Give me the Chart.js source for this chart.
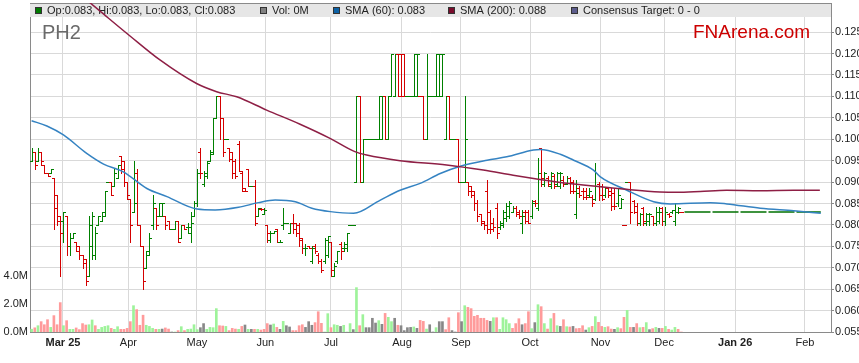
<!DOCTYPE html>
<html>
<head>
<meta charset="utf-8">
<title>PH2</title>
<style>
    html, body { margin: 0; padding: 0; background: #fff; }
    #ph2Chart { display: block; }
</style>
<script src="https://cdn.jsdelivr.net/npm/chart.js@4.4.1/dist/chart.umd.min.js"></script>
</head>
<body>
<canvas id="ph2Chart" width="859" height="363"></canvas>
<script>
// Daily bars, one per trading day (index 0 = first bar on the chart)
var opens = [
    .095, .097, .095, .097, .094, .092, .092, .091, .087, .082,
    .081, .082, .075, .077, .076, .075, .073, .072, .068, .075,
    .073, .080, .081, .082, .090, .090, .089, .091, .096, .095,
    .090, .086, .083, .092, .080, .075, .070, .074, .080, .084,
    .082, .082, .082, .081, .079, .079, .081, .077, .080,
    .0795, .078, .082, .085, .097, .0895, .0915, .095, .0965, .105,
    .110, .105, .100, .098, .097, .095, .099, .092, .0885, .093,
    .089, .089, .082, .0838, .0825, .080, .0765, .078, .079, .076,
    .080, .0805, .078, .0805, .0805, .080, .077, .0745, .075, .0715,
    .075, .073, .0715, .0715, .073, .076, .068, .0715, .0755, .0745,
    .0745, .080, .080,
    .09, .11, .09, .10, .10, .10, .10, .10, .10, .11,
    .10, .11, .11, .12, .12, .12, .11, .11, .11, .11,
    .11, .11, .10, .11, .11, .11, .11, .11, .10, .11,
    .10, .10, .10, .09, .09,
    .090, .089, .088, .085, .0825, .081, .088, .083, .0805, .084,
    .0795, .080, .0815, .082, .083, .084, .083, .0805, .083, .083,
    .082, .0855, .084, .098, .0895, .091, .089, .0915, .0895, .089,
    .0905, .0895, .091, .090, .0825, .0885, .088, .088, .087, .0865,
    .086, .0895,
    .089, .087, .0885, .088, .0875, .085, .084, .080, .090, .090,
    .0855, .0845, .0805, .084, .0805, .081, .082, .0805, .081, .084,
    .081, .0825, .083, .081, .083, .083
];
var highs = [
    .098, .097, .098, .097, .094, .092, .093, .091, .087, .082,
    .083, .082, .078, .078, .076, .075, .073, .072, .082, .083,
    .0795, .082, .083, .088, .090, .090, .093, .094, .096, .095,
    .090, .086, .095, .093, .080, .075, .074, .078, .087, .084,
    .085, .085, .082, .081, .079, .081, .081, .080, .080,
    .0805, .083, .0855, .093, .098, .0925, .095, .0975, .105, .110,
    .110, .105, .100, .098, .097, .0955, .0995, .0925, .0885, .093,
    .089, .0905, .084, .084, .084, .080, .0785, .0785, .079, .0765,
    .084, .0805, .0805, .0825, .0805, .0805, .077, .0755, .075, .075,
    .0755, .0735, .072, .077, .0775, .076, .071, .074, .076, .076,
    .078, .080, .080,
    .11, .11, .10, .10, .10, .10, .10, .11, .11, .11,
    .11, .12, .12, .12, .12, .12, .11, .11, .12, .12,
    .11, .11, .12, .11, .11, .12, .12, .12, .11, .11,
    .10, .10, .10, .09, .11,
    .090, .089, .088, .0858, .0825, .081, .0905, .0835, .0815, .085,
    .081, .0835, .085, .0855, .0845, .0845, .0835, .0835, .0835, .0835,
    .0858, .0858, .0956, .098, .0924, .0915, .0924, .0918, .0924, .0924,
    .0915, .0915, .0912, .0905, .0905, .089, .0885, .0885, .0885, .087,
    .0944, .090,
    .0896, .0889, .0889, .0886, .0886, .0885, .0862, .080, .090, .090,
    .0858, .0851, .0828, .0842, .0828, .0828, .082, .0842, .0842, .0842,
    .0842, .0828, .0835, .0851, .0842, .083
];
var lows = [
    .095, .093, .095, .094, .092, .0915, .092, .079, .080, .068,
    .076, .073, .073, .077, .074, .072, .070, .066, .068, .072,
    .072, .080, .081, .082, .090, .087, .089, .091, .092, .089,
    .086, .076, .083, .080, .075, .065, .070, .073, .079, .079,
    .082, .082, .079, .079, .079, .079, .076, .077, .079,
    .078, .076, .082, .0845, .091, .089, .091, .095, .0965, .105,
    .100, .096, .100, .095, .091, .091, .0925, .088, .088, .089,
    .089, .080, .082, .0835, .0825, .076, .076, .078, .076, .076,
    .079, .0805, .078, .078, .0775, .075, .0735, .073, .0745, .071,
    .0735, .071, .069, .071, .0725, .068, .068, .071, .072, .074,
    .074, .080, .080,
    .09, .09, .09, .10, .10, .10, .10, .10, .10, .10,
    .10, .11, .11, .11, .11, .11, .11, .11, .11, .11,
    .11, .10, .10, .11, .11, .11, .11, .11, .10, .10,
    .10, .10, .09, .09, .09,
    .087, .0865, .0835, .081, .080, .079, .078, .078, .0785, .077,
    .079, .0795, .081, .0815, .083, .082, .0815, .078, .0805, .0805,
    .0815, .0845, .0835, .089, .089, .089, .0885, .0885, .089, .0885,
    .089, .0895, .0875, .0875, .0815, .0865, .086, .086, .0865, .0845,
    .0858, .0858,
    .0858, .0865, .0865, .0835, .0838, .0845, .0839, .080, .090, .0805,
    .0827, .080, .080, .080, .080, .080, .080, .080, .0805, .080,
    .080, .0818, .0828, .080, .0828, .083
];
var closes = [
    .097, .094, .097, .095, .092, .0915, .093, .084, .081, .078,
    .083, .075, .077, .078, .074, .073, .071, .067, .080, .082,
    .078, .082, .083, .088, .090, .087, .092, .094, .093, .090,
    .087, .080, .085, .080, .075, .067, .073, .077, .085, .080,
    .085, .085, .080, .079, .079, .081, .076, .080, .079,
    .0795, .0805, .085, .092, .092, .092, .0945, .097, .105, .110,
    .105, .097, .100, .0955, .092, .0915, .0925, .088, .088, .089,
    .089, .0805, .084, .0838, .0835, .078, .078, .0785, .076, .076,
    .0805, .0805, .0805, .079, .078, .0765, .0745, .0745, .0745, .0745,
    .074, .0715, .0695, .0765, .0775, .0695, .0705, .074, .074, .0755,
    .078, .080, .080,
    .11, .09, .10, .10, .10, .10, .10, .11, .11, .10,
    .11, .12, .12, .11, .11, .11, .11, .11, .12, .12,
    .11, .10, .11, .11, .11, .12, .12, .12, .11, .10,
    .10, .10, .09, .09, .10,
    .088, .087, .085, .082, .0805, .080, .079, .079, .0795, .078,
    .0805, .083, .0845, .085, .084, .0825, .082, .082, .081, .0805,
    .085, .085, .092, .091, .092, .0895, .092, .089, .092, .092,
    .0895, .091, .088, .088, .0875, .087, .0865, .0865, .088, .085,
    .089, .087,
    .086, .0885, .087, .0845, .0845, .087, .086, .080, .090, .083,
    .083, .0805, .0825, .081, .0825, .0825, .0805, .083, .083, .081,
    .083, .082, .0835, .085, .084, .083
];
// Volume in millions of shares
var volumes = [
    .2, .3, .45, .74, .52, .88, .33, 1.17, .52, 2.1,
    .45, .81, .19, .19, .29, .17, .6, .5, .52, .86,
    .45, .19, .33, .4, .45, .26, .19, .38, .19, .19,
    .26, .74, 1.88, 1.6, .48, 1.2, .48, .4, .26, .19,
    .19, .21, .29, .21, 0, 0, .1, .38, .1, .19,
    .21, .52, .17, .31, .6, .19, .33, .31, 1.67, .45,
    .43, .4, .1, .26, .21, .19, .4, .5, .19, .19,
    .19, .19, .14, .19, .6, .5, .57, .33, .19, .76,
    .45, .36, .1, .1, .45, .52, .33, .74, .48, .67,
    1.45, .62, 0, 1.31, .31, .52, .48, .4, .48, 0,
    .6, .17, 3.17, .45, 1.24, .31, .31, .98, .64, .81,
    .55, 1.33, 1.05, .74, .98, .48, .45, .1, .31, .33,
    .36, .26, .83, .76, .21, .52, 0, .31, .74, .74,
    .17, 1.02, .1, 0, 1.38, .74, 1.88, 1.76, 1.67, 1.12,
    1.19, .98, .98, .83, .76, 1.02, 1.02, .19, 1.02, .88,
    .6, .26, .6, .95, .52, .6, 1.45, .24, .67, 1.95,
    1.81, .6, .21, .95, 1.33, .45, .4, .88, .38, .36,
    .4, .24, .26, .45, .14, .31, .4, 1.1, .69, .4,
    .33, .38, .21, .19, .31, .24, 1.05, 1.55, .33, .33,
    .6, .31, .33, .67, .17, .24, .33, .26, .26, .4,
    .19, .14, .33, .19, 0
];

// Moving averages at bar positions
var sma60Pos = [0, 4.8, 10, 17.3, 22.6, 28.8, 36.2, 42.5, 51.9, 57.6, 65, 71.2, 76.5, 82.8, 88, 93.8, 101.1,
    109.5, 115.7, 122, 128.3, 134.6, 143, 149.2, 157.6, 159.7, 166, 170.2, 176.4, 178.6, 186.9, 195.3,
    200.5, 213.1, 218.3, 228.8, 239.3, 247.8];
var sma60Vals = [.1043, .1031, .1010, .0967, .0942, .0924, .0885, .0866, .0837, .0835, .0841, .0852, .0858,
    .0854, .0839, .0831, .0827, .0858, .0881, .0897, .0920, .0937, .0951, .0959, .0975, .0976, .0965, .0951,
    .0928, .0912, .0881, .0854, .0849, .0852, .0849, .0839, .0833, .0827];
var sma200Pos = [13.6, 21.5, 30.9, 40.3, 51.8, 58.1, 64.4, 73.8, 84.3, 93.7, 101.5, 105.2, 115.7, 130.3,
    141.8, 151.2, 159.6, 168, 178.5, 186.8, 197.3, 202.5, 209.9, 218.2, 228.7, 239.2, 247.5];
var sma200Vals = [.1348, .1299, .1241, .1185, .1130, .1111, .1099, .1068, .1035, .1002, .0971, .0963, .0950,
    .0940, .0928, .0916, .0906, .0897, .0889, .0883, .0877, .0876, .0878, .0881, .0880, .0881, .0881];

// Days with no trades yet, drawn flat at the last price
var futureRange = [205, 247.8];

var monthTickPos = [9.86, 30.4, 51.9, 73.4, 94.0, 116.3, 134.8, 156.5, 178.6, 198.6, 220.9, 242.8];
var monthTickLabels = ['Mar 25', 'Apr', 'May', 'Jun', 'Jul', 'Aug', 'Sep', 'Oct', 'Nov', 'Dec', 'Jan 26', 'Feb'];
var priceTicks = [0.055, 0.060, 0.065, 0.070, 0.075, 0.080, 0.085, 0.090, 0.095, 0.100, 0.105, 0.110, 0.115, 0.120, 0.125];
var volTicks = [0, 2, 4];

(function () {
    var canvas = document.getElementById('ph2Chart');
    if (!canvas) return;
    var ctx = canvas.getContext('2d');

    var FONT = '"Liberation Sans", Arial, Helvetica, sans-serif';
    var barUp = '#008000', barDown = '#d40000';
    var volUp = '#9ef39a', volDown = '#ff9b9b', volFlat = '#888888';
    var last = closes.length - 1;

    Chart.defaults.font.family = FONT;
    Chart.defaults.font.size = 11;
    Chart.defaults.color = '#333';

    function barColor(i) {
        if (closes[i] > opens[i]) return barUp;
        if (closes[i] < opens[i]) return barDown;
        if (i > 0 && closes[i] < closes[i - 1]) return barDown;
        return barUp;
    }

    var volColors = volumes.map(function (v, i) {
        if (i === 0) return closes[0] >= opens[0] ? volUp : volDown;
        if (closes[i] > closes[i - 1]) return volUp;
        if (closes[i] < closes[i - 1]) return volDown;
        return volFlat;
    });

    var legendItems = [
        { x: 35,  color: '#007a00', text: 'Op:' + opens[last].toFixed(3) + ', Hi:' + highs[last].toFixed(3) +
            ', Lo:' + lows[last].toFixed(3) + ', Cl:' + closes[last].toFixed(3) },
        { x: 260, color: '#808080', text: 'Vol: ' + Math.round(volumes[last]) + 'M' },
        { x: 333, color: '#0d62a6', text: 'SMA (60): ' + sma60Vals[sma60Vals.length - 1].toFixed(3) },
        { x: 448, color: '#7a0c2c', text: 'SMA (200): ' + sma200Vals[sma200Vals.length - 1].toFixed(3) },
        { x: 571, color: '#5c5c8c', text: 'Consensus Target: 0 - 0' }
    ];

    // legend band, watermark texts and the OHLC bars
    var ohlcPlugin = {
        id: 'ohlcBars',
        beforeDatasetsDraw: function (chart) {
            var c = chart.ctx;
            var area = chart.chartArea;
            var xs = chart.scales.x;
            var ys = chart.scales.y;

            c.save();
            c.fillStyle = '#e6e6e6';
            c.fillRect(area.left, area.top, area.right - area.left, 14);
            c.fillStyle = '#8a8a8a';
            c.fillRect(area.left, area.top, area.right - area.left, 1);

            c.textBaseline = 'middle';
            c.font = '11px ' + FONT;
            legendItems.forEach(function (item) {
                c.fillStyle = item.color;
                c.fillRect(item.x, area.top + 4, 7, 7);
                c.strokeStyle = '#333';
                c.lineWidth = 1;
                c.strokeRect(item.x + 0.5, area.top + 4.5, 6, 6);
                c.fillStyle = '#222';
                c.fillText(item.text, item.x + 12, area.top + 8);
            });

            c.font = '20px ' + FONT;
            c.fillStyle = '#6a6a6a';
            c.fillText('PH2', 42, 33);
            c.font = '19px ' + FONT;
            c.fillStyle = '#cc0000';
            c.fillText('FNArena.com', 693, 33);

            c.beginPath();
            c.rect(area.left, area.top, area.right - area.left, area.bottom - area.top);
            c.clip();
            for (var i = 0; i < closes.length; i++) {
                var x = Math.round(xs.getPixelForValue(i));
                var yH = Math.round(ys.getPixelForValue(highs[i]));
                var yL = Math.round(ys.getPixelForValue(lows[i]));
                var yO = Math.round(ys.getPixelForValue(opens[i]));
                var yC = Math.round(ys.getPixelForValue(closes[i]));
                c.fillStyle = barColor(i);
                c.fillRect(x, yH, 1, yL - yH + 1);
                c.fillRect(x - 2, yO, 2, 1);
                c.fillRect(x + 1, yC, 2, 1);
            }
            c.restore();
        }
    };

    new Chart(ctx, {
        type: 'line',
        data: {
            datasets: [{
                label: 'SMA (200)',
                data: sma200Pos.map(function (p, k) { return { x: p, y: sma200Vals[k] }; }),
                borderColor: '#8e1f45',
                borderWidth: 1.5,
                pointRadius: 0,
                cubicInterpolationMode: 'monotone',
                yAxisID: 'y'
            }, {
                label: 'SMA (60)',
                data: sma60Pos.map(function (p, k) { return { x: p, y: sma60Vals[k] }; }),
                borderColor: '#3583c2',
                borderWidth: 1.5,
                pointRadius: 0,
                cubicInterpolationMode: 'monotone',
                yAxisID: 'y'
            }, {
                label: 'Last',
                data: futureRange.map(function (p) { return { x: p, y: closes[last] }; }),
                borderColor: '#007000',
                borderWidth: 1.6,
                borderDash: [26, 2],
                pointRadius: 0,
                yAxisID: 'y'
            }, {
                type: 'bar',
                label: 'Volume',
                data: volumes.map(function (v, i) { return { x: i, y: v }; }),
                backgroundColor: volColors,
                borderWidth: 0,
                barThickness: 2,
                grouped: false,
                yAxisID: 'yVol'
            }]
        },
        options: {
            responsive: false,
            animation: false,
            events: [],
            layout: { padding: { top: 3, left: 0, right: 0, bottom: 0 } },
            plugins: {
                legend: { display: false },
                tooltip: { enabled: false }
            },
            scales: {
                x: {
                    type: 'linear',
                    position: 'bottom',
                    min: -0.5,
                    max: 251,
                    offset: false,
                    afterBuildTicks: function (axis) {
                        axis.ticks = monthTickPos.map(function (v) { return { value: v }; });
                    },
                    afterFit: function (scale) {
                        scale.height = 31;
                        scale.paddingLeft = 0;
                        scale.paddingRight = 0;
                    },
                    grid: { color: '#d9d9d9', drawTicks: false, offset: false },
                    border: { color: '#8a8a8a' },
                    ticks: {
                        autoSkip: false,
                        maxRotation: 0,
                        minRotation: 0,
                        padding: 4,
                        color: '#222',
                        font: function (c) {
                            var lbl = monthTickLabels[c.index] || '';
                            return { family: FONT, size: 11, weight: lbl.indexOf(' ') > 0 ? 'bold' : 'normal' };
                        },
                        callback: function (value, index) { return monthTickLabels[index]; }
                    }
                },
                y: {
                    position: 'right',
                    min: 0.055,
                    max: 0.1318,
                    afterBuildTicks: function (axis) {
                        axis.ticks = priceTicks.map(function (v) { return { value: v }; });
                    },
                    afterFit: function (scale) {
                        scale.width = 28;
                        scale.paddingTop = 0;
                        scale.paddingBottom = 0;
                    },
                    grid: { color: '#d9d9d9', tickColor: '#8a8a8a', tickLength: 3 },
                    border: { color: '#8a8a8a' },
                    ticks: {
                        padding: 1,
                        color: '#222',
                        callback: function (v) { return v.toFixed(3); }
                    }
                },
                yVol: {
                    position: 'left',
                    min: 0,
                    max: 23.5,
                    afterBuildTicks: function (axis) {
                        axis.ticks = volTicks.map(function (v) { return { value: v }; });
                    },
                    afterFit: function (scale) {
                        scale.width = 30;
                        scale.paddingTop = 0;
                        scale.paddingBottom = 0;
                    },
                    grid: { display: false, drawTicks: false },
                    border: { color: '#8a8a8a' },
                    ticks: {
                        padding: 2,
                        color: '#222',
                        callback: function (v) { return v.toFixed(1) + 'M'; }
                    }
                }
            }
        },
        plugins: [ohlcPlugin]
    });
})();
</script>
</body>
</html>
